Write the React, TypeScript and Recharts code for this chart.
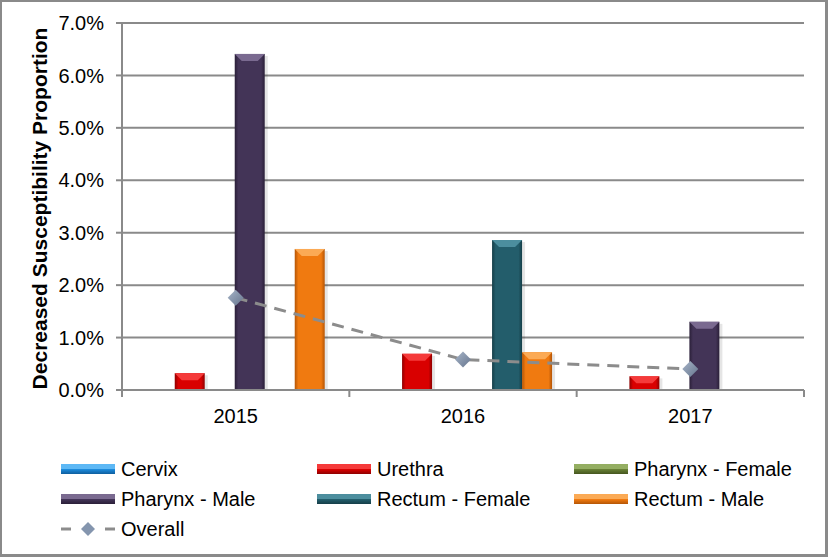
import React from "react";
import {
  ComposedChart,
  Bar,
  Line,
  XAxis,
  YAxis,
  CartesianGrid,
} from "recharts";

const years = ["2015", "2016", "2017"];
const cervix = [null, null, null];
const urethra = [0.32, 0.69, 0.26];
const pharynxFemale = [null, null, null];
const pharynxMale = [6.41, null, 1.3];
const rectumFemale = [null, 2.86, null];
const rectumMale = [2.69, 0.72, null];
const overall = [1.76, 0.58, 0.4];
const yTicks = [0, 1, 2, 3, 4, 5, 6, 7];

const data = years.map((year, i) => ({
  year,
  cervix: cervix[i],
  urethra: urethra[i],
  pharynxFemale: pharynxFemale[i],
  pharynxMale: pharynxMale[i],
  rectumFemale: rectumFemale[i],
  rectumMale: rectumMale[i],
  overall: overall[i],
}));

const series = [
  { key: "cervix", name: "Cervix", base: "#1C8ADB", light: "#5DB8F5", dark: "#0E5E9E" },
  { key: "urethra", name: "Urethra", base: "#D90000", light: "#F53A3A", dark: "#8E0000" },
  { key: "pharynxFemale", name: "Pharynx - Female", base: "#677F35", light: "#94AE62", dark: "#45561F" },
  { key: "pharynxMale", name: "Pharynx - Male", base: "#433457", light: "#7A6A90", dark: "#2A1F38" },
  { key: "rectumFemale", name: "Rectum - Female", base: "#235D6B", light: "#4C8E9E", dark: "#153E48" },
  { key: "rectumMale", name: "Rectum - Male", base: "#F07A10", light: "#FBAA55", dark: "#B45506" },
];

const W = 828;
const H = 557;
const M = { top: 23, right: 24, bottom: 137, left: 0 };
const Y_W = 122;
const HALF = (W - M.right - Y_W) / years.length / 2;
const FONT = '"Liberation Sans", Arial, sans-serif';
const GRID = "#8A8A8A";

function BevelBar(props: any) {
  const { x, y, width, height, skey } = props;
  if (height == null || height <= 0.5) return null;
  const s = series.find((d) => d.key === skey)!;
  const b = Math.min(7, height / 2);
  return (
    <g>
      <rect x={x + width} y={y + 2} width={3} height={height - 2} fill="rgba(0,0,0,0.10)" />
      <rect x={x} y={y} width={width} height={height} fill={`url(#g-${skey})`} />
      <polygon
        points={`${x},${y} ${x + width},${y} ${x + width - 7},${y + b} ${x + 7},${y + b}`}
        fill={s.light}
      />
    </g>
  );
}

function Diamond(props: any) {
  const { cx, cy } = props;
  if (cx == null || cy == null) return null;
  const r = 8;
  return (
    <polygon
      points={`${cx},${cy - r} ${cx + r},${cy} ${cx},${cy + r} ${cx - r},${cy}`}
      fill="url(#g-diamond)"
    />
  );
}

function YearTick(props: any) {
  const { x, y, payload, index } = props;
  return (
    <g>
      <line x1={x - HALF} x2={x - HALF} y1={y} y2={y + 7} stroke={GRID} strokeWidth={2} />
      {index === years.length - 1 && (
        <line x1={x + HALF} x2={x + HALF} y1={y} y2={y + 7} stroke={GRID} strokeWidth={2} />
      )}
      <text x={x} y={y + 33} textAnchor="middle" fontSize={20} fontFamily={FONT} fill="#000">
        {payload.value}
      </text>
    </g>
  );
}

function Swatch({ s }: { s: (typeof series)[number] }) {
  return (
    <svg width={54} height={12} style={{ display: "block" }}>
      <defs>
        <linearGradient id={`lg-${s.key}`} x1="0" y1="0" x2="0" y2="1">
          <stop offset="0%" stopColor={s.light} />
          <stop offset="45%" stopColor={s.light} />
          <stop offset="55%" stopColor={s.base} />
          <stop offset="100%" stopColor={s.dark} />
        </linearGradient>
      </defs>
      <rect x={0} y={1} width={54} height={10} fill={`url(#lg-${s.key})`} />
    </svg>
  );
}

function OverallSwatch() {
  return (
    <svg width={54} height={16} style={{ display: "block" }}>
      <line x1={0} x2={10} y1={8} y2={8} stroke="#8C8C8C" strokeWidth={3} />
      <line x1={44} x2={54} y1={8} y2={8} stroke="#8C8C8C" strokeWidth={3} />
      <polygon points="27,1 34,8 27,15 20,8" fill="#8495AE" />
    </svg>
  );
}

const legendCols = [61, 317, 574];
const legendRows = [469, 499, 529];

export default function App() {
  const legendItems = [
    ...series.map((s) => ({ name: s.name, icon: <Swatch s={s} /> })),
    { name: "Overall", icon: <OverallSwatch /> },
  ];
  return (
    <div style={{ position: "absolute", left: 0, top: 0, width: W, height: H, background: "#fff" }}>
      <ComposedChart
        width={W}
        height={H}
        data={data}
        margin={M}
        barCategoryGap="10%"
        barGap={0}
      >
        <defs>
          {series.map((s) => (
            <linearGradient key={s.key} id={`g-${s.key}`} x1="0" y1="0" x2="1" y2="0">
              <stop offset="0%" stopColor={s.dark} />
              <stop offset="12%" stopColor={s.base} />
              <stop offset="88%" stopColor={s.base} />
              <stop offset="100%" stopColor={s.dark} />
            </linearGradient>
          ))}
          <linearGradient id="g-diamond" x1="0" y1="0" x2="1" y2="1">
            <stop offset="0%" stopColor="#A7B5C8" />
            <stop offset="100%" stopColor="#66758E" />
          </linearGradient>
        </defs>
        <CartesianGrid vertical={false} stroke={GRID} strokeWidth={2} />
        <XAxis
          dataKey="year"
          height={30}
          tickLine={false}
          tickSize={0}
          tickMargin={0}
          axisLine={{ stroke: GRID, strokeWidth: 2 }}
          tick={<YearTick />}
          interval={0}
        />
        <YAxis
          width={Y_W}
          domain={[0, 7]}
          ticks={yTicks}
          tickFormatter={(v: number) => `${v.toFixed(1)}%`}
          tickSize={6}
          tickMargin={12}
          tickLine={{ stroke: GRID, strokeWidth: 2 }}
          axisLine={{ stroke: GRID, strokeWidth: 2 }}
          tick={{ fill: "#000", fontSize: 20, fontFamily: FONT }}
          label={{
            value: "Decreased Susceptibility Proportion",
            angle: -90,
            position: "insideLeft",
            offset: 40,
            dy: 2,
            style: { textAnchor: "middle", fontWeight: "bold", fontSize: 21, fontFamily: FONT, fill: "#000" },
          }}
        />
        {series.map((s) => (
          <Bar
            key={s.key}
            dataKey={s.key}
            name={s.name}
            fill={s.base}
            isAnimationActive={false}
            shape={(p: any) => <BevelBar {...p} skey={s.key} />}
          />
        ))}
        <Line
          dataKey="overall"
          name="Overall"
          type="linear"
          stroke="#8C8C8C"
          strokeWidth={3}
          strokeDasharray="12 8"
          dot={<Diamond />}
          activeDot={false}
          isAnimationActive={false}
        />
      </ComposedChart>
      {legendItems.map((item, i) => {
        const col = i % 3;
        const row = Math.floor(i / 3);
        return (
          <div
            key={item.name}
            style={{
              position: "absolute",
              left: legendCols[col],
              top: legendRows[row] - 12,
              height: 24,
              display: "flex",
              alignItems: "center",
              fontFamily: FONT,
              fontSize: 20,
              color: "#000",
              whiteSpace: "nowrap",
            }}
          >
            {item.icon}
            <span style={{ marginLeft: 6 }}>{item.name}</span>
          </div>
        );
      })}
      <div
        style={{
          position: "absolute",
          left: 0,
          top: 0,
          width: W,
          height: H,
          boxSizing: "border-box",
          border: "2px solid #8A8A8A",
          borderRightWidth: 3,
          borderBottomWidth: 3,
          pointerEvents: "none",
        }}
      />
    </div>
  );
}
